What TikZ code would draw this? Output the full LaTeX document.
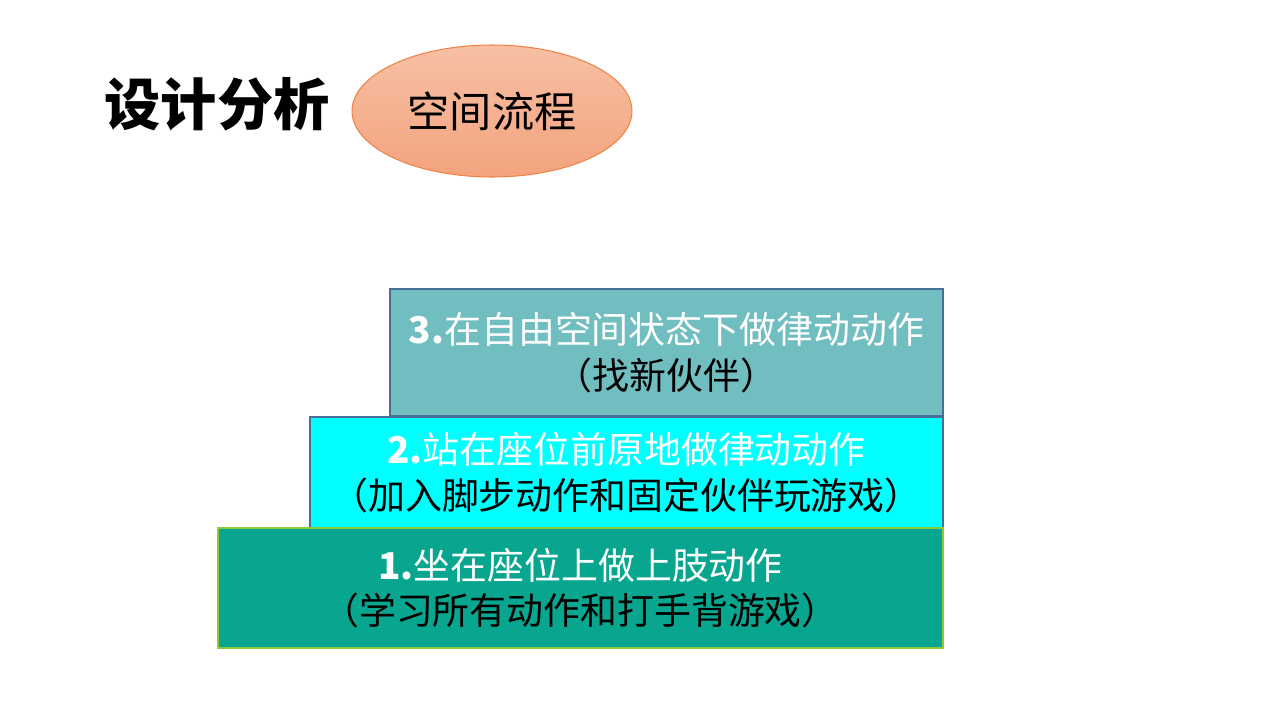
\documentclass[tikz,border=0pt]{standalone}
\usepackage{fontspec}
\setmainfont{Liberation Sans}
\newfontfamily\cjk{Noto Sans CJK SC}
\usetikzlibrary{shapes.geometric}
\definecolor{stepthree}{RGB}{112,190,192}
\definecolor{steptwo}{RGB}{0,255,255}
\definecolor{stepone}{RGB}{8,166,142}
\definecolor{stepedge}{RGB}{72,110,150}
\definecolor{oneedge}{RGB}{140,200,60}
\definecolor{ovaltop}{RGB}{247,192,164}
\definecolor{ovalbottom}{RGB}{243,163,126}
\definecolor{ovaledge}{RGB}{240,130,70}
\tikzset{
  stepbox/.style={rectangle, draw=stepedge, line width=0.8pt, align=center,
    inner sep=0pt, font=\cjk\fontsize{21}{26}\selectfont},
  lite/.style={text=white}
}
\begin{document}
\begin{tikzpicture}
[x=0.02cm, y=-0.02cm]
\useasboundingbox (0,0) rectangle (1280,720);
\node (title) at (217, 104) {\cjk\bfseries\fontsize{32}{38}\selectfont 设计分析};
\node (oval) at (492, 111) [ellipse, draw=ovaledge, line width=0.6pt,
  top color=ovaltop, bottom color=ovalbottom,
  minimum width=5.6cm, minimum height=2.64cm, inner sep=0pt]
  {\cjk\fontsize{24}{28}\selectfont 空间流程};
%%
\node (three) at (666.5, 352.5) [stepbox, fill=stepthree,
  minimum width=11.06cm, minimum height=2.54cm]
  {\textcolor{white}{\textbf{3.}在自由空间状态下做律动动作}\\（找新伙伴）};
\node (two) at (626.5, 472.5) [stepbox, fill=steptwo,
  minimum width=12.66cm, minimum height=2.22cm]
  {\textcolor{white}{\textbf{2.}站在座位前原地做律动动作}\\（加入脚步动作和固定伙伴玩游戏）};
\node (one) at (580.5, 588) [stepbox, draw=oneedge, fill=stepone,
  minimum width=14.5cm, minimum height=2.4cm]
  {\textcolor{white}{\textbf{1.}坐在座位上做上肢动作}\\（学习所有动作和打手背游戏）};
\end{tikzpicture}
\end{document}
